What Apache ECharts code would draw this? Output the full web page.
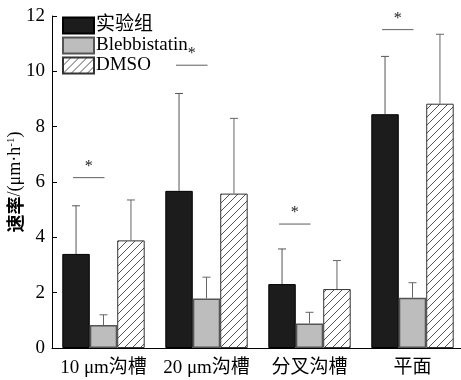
<!DOCTYPE html>
<html><head><meta charset="utf-8">
<script src="https://cdn.jsdelivr.net/npm/echarts@6/dist/echarts.min.js"></script>
<style>html,body{margin:0;padding:0;background:#fff}#c{width:461px;height:380px}</style>
</head><body><div id="c"></div>
<script>
const categories = ['10 μm沟槽', '20 μm沟槽', '分叉沟槽', '平面'];
const seriesNames = ['实验组', 'Blebbistatin', 'DMSO'];
const expValues = [3.40, 5.68, 2.31, 8.45];
const expErrTop = [5.14, 9.20, 3.58, 10.54];
const blebValues = [0.83, 1.79, 0.89, 1.82];
const blebErrTop = [1.20, 2.56, 1.29, 2.36];
const dmsoValues = [3.89, 5.58, 2.13, 8.83];
const dmsoErrTop = [5.35, 8.30, 3.16, 11.34];
const sigY = [6.16, 10.22, 4.48, 11.51];
const yTicks = [0, 2, 4, 6, 8, 10, 12];

const serif = '"Liberation Serif", "Times New Roman", "Noto Sans CJK SC", serif';

// hatch pattern for DMSO
const pc = document.createElement('canvas');
pc.width = 8; pc.height = 8;
const g = pc.getContext('2d');
g.fillStyle = '#fff'; g.fillRect(0, 0, 8, 8);
g.strokeStyle = '#555'; g.lineWidth = 1;
g.beginPath();
g.moveTo(0, 8); g.lineTo(8, 0);
g.moveTo(-1, 1); g.lineTo(1, -1);
g.moveTo(7, 9); g.lineTo(9, 7);
g.stroke();

const chart = echarts.init(document.getElementById('c'), null, {renderer: 'canvas'});

function errSeries(name, vals, tops, idx, color) {
  return {
    type: 'custom',
    name: name + '_err',
    data: vals.map((v, i) => [i, v, tops[i]]),
    z: 5,
    silent: true,
    renderItem: function (params, api) {
      const ci = api.value(0);
      const base = api.coord([ci, api.value(1)]);
      const top = api.coord([ci, api.value(2)]);
      const cw = api.size([1, 0])[0];
      const bw = cw * 0.8 / 3;
      const x = base[0] + (idx - 1) * bw;
      const cap = 4;
      return {
        type: 'group',
        children: [
          {type: 'line', shape: {x1: x, y1: base[1], x2: x, y2: top[1]}, style: {stroke: color, lineWidth: 1}},
          {type: 'line', shape: {x1: x - cap, y1: top[1], x2: x + cap, y2: top[1]}, style: {stroke: color, lineWidth: 1}}
        ]
      };
    }
  };
}

const option = {
  animation: false,
  backgroundColor: '#fff',
  grid: {left: 52, top: 16, width: 412, height: 332, containLabel: false, outerBoundsMode: 'none'},
  legend: {
    orient: 'vertical', left: 62, top: 16, padding: 0,
    itemWidth: 31, itemHeight: 16, itemGap: 1,
    icon: 'rect',
    data: seriesNames,
    textStyle: {fontFamily: serif, fontSize: 19, color: '#000', padding: [0, 0, 0, -3]}
  },
  xAxis: {
    type: 'category', data: categories,
    axisLine: {lineStyle: {color: '#000', width: 1}},
    axisTick: {inside: true, length: 5, lineStyle: {color: '#000'}},
    axisLabel: {interval: 0, fontFamily: serif, fontSize: 19, color: '#000', margin: 11}
  },
  yAxis: {
    type: 'value', min: 0, max: 12, interval: 2,
    name: '{a|速率}{b|/(μm·h}{s|-1}{b|)}', nameLocation: 'middle', nameGap: 27,
    nameMoveOverlap: false,
    nameTextStyle: {
      color: '#000',
      rich: {
        a: {fontFamily: '"Noto Sans CJK SC", sans-serif', fontSize: 18, fontWeight: 'bold', color: '#000'},
        b: {fontFamily: serif, fontSize: 18, color: '#000'},
        s: {fontFamily: serif, fontSize: 11, color: '#000', verticalAlign: 'top', padding: [0, 0, 8, 0]}
      }
    },
    splitLine: {show: false},
    axisLine: {show: true, lineStyle: {color: '#000', width: 1}},
    axisTick: {show: true, inside: true, length: 5, lineStyle: {color: '#000'}},
    axisLabel: {fontFamily: serif, fontSize: 19, color: '#000', margin: 7,
      formatter: v => yTicks.includes(v) ? String(v) : ''}
  },
  series: [
    {name: seriesNames[0], type: 'bar', data: expValues, barGap: '0%', barCategoryGap: '20%',
      itemStyle: {color: '#1c1c1c', borderColor: '#000', borderWidth: 1}},
    {name: seriesNames[1], type: 'bar', data: blebValues, barGap: '0%', barCategoryGap: '20%',
      itemStyle: {color: '#bdbdbd', borderColor: '#555', borderWidth: 1.5}},
    {name: seriesNames[2], type: 'bar', data: dmsoValues, barGap: '0%', barCategoryGap: '20%',
      itemStyle: {color: {image: pc, repeat: 'repeat'}, borderColor: '#333', borderWidth: 1}},
    errSeries('exp', expValues, expErrTop, 0, '#555'),
    errSeries('bleb', blebValues, blebErrTop, 1, '#666'),
    errSeries('dmso', dmsoValues, dmsoErrTop, 2, '#666'),
    {
      type: 'custom', name: 'sig', silent: true, z: 6,
      data: sigY.map((v, i) => [i, v]),
      renderItem: function (params, api) {
        const ci = api.value(0);
        const p = api.coord([ci, api.value(1)]);
        const cw = api.size([1, 0])[0];
        const bw = cw * 0.8 / 3;
        const x1 = p[0] - bw - 3, x2 = p[0] + 1;
        return {
          type: 'group',
          children: [
            {type: 'line', shape: {x1: x1, y1: p[1], x2: x2, y2: p[1]}, style: {stroke: '#777', lineWidth: 1.2}},
            {type: 'text', style: {text: '*', x: (x1 + x2) / 2, y: p[1] - 3, align: 'center', verticalAlign: 'bottom',
              font: '16px "Liberation Serif", serif', fill: '#222'}}
          ]
        };
      }
    }
  ]
};
chart.setOption(option);
</script>
</body></html>
